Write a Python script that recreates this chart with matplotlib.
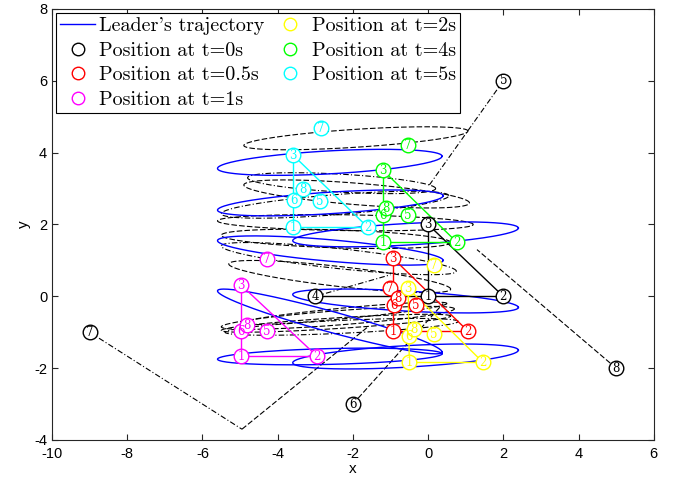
import numpy as np
import matplotlib
matplotlib.use("Agg")
import matplotlib.pyplot as plt
from matplotlib.lines import Line2D

# ---------------- data ----------------
# follower formation positions at each time: follower id -> (x, y)
times = ["0", "0.5", "1", "2", "4", "5"]
colors = ["#000000", "#ff0000", "#ff00ff", "#ffff00", "#00ff00", "#00ffff"]

pos_t0 = {1: (0, 0), 2: (2, 0), 3: (0, 2), 4: (-3, 0), 5: (2, 6), 6: (-2, -3), 7: (-9, -1), 8: (5, -2)}
pos_t05 = {1: (-0.93, -0.97), 2: (1.06, -0.97), 3: (-0.93, 1.06), 5: (-0.32, -0.25),
           6: (-0.9, -0.25), 7: (-1.01, 0.22), 8: (-0.8, -0.06)}
pos_t1 = {1: (-4.97, -1.67), 2: (-2.95, -1.67), 3: (-4.97, 0.31), 5: (-4.28, -0.97),
          6: (-4.97, -0.97), 7: (-4.28, 1.03), 8: (-4.81, -0.81)}
pos_t2 = {1: (-0.5, -1.84), 2: (1.46, -1.84), 3: (-0.53, 0.22), 5: (0.16, -1.06),
          6: (-0.5, -1.11), 7: (0.16, 0.86), 8: (-0.37, -0.92)}
pos_t4 = {1: (-1.2, 1.5), 2: (0.77, 1.5), 3: (-1.2, 3.51), 5: (-0.53, 2.26),
          6: (-1.2, 2.26), 7: (-0.53, 4.2), 8: (-1.12, 2.45)}
pos_t5 = {1: (-3.59, 1.92), 2: (-1.6, 1.92), 3: (-3.59, 3.93), 5: (-2.87, 2.65),
          6: (-3.56, 2.67), 7: (-2.85, 4.68), 8: (-3.32, 2.98)}
positions = [pos_t0, pos_t05, pos_t1, pos_t2, pos_t4, pos_t5]

edges_common = [(1, 2), (1, 3), (2, 3)]
edges_t0_extra = [(1, 4)]

# leader trajectory loops: left tip (x, y), right tip (x, y), half thickness
leader_left_x = [-5.6, -5.6, -3.6, -5.6, -5.6, -3.6, -5.6, -3.6]
leader_left_y = [3.56, 2.40, 1.55, 1.55, 0.15, 0.05, -1.75, -1.85]
leader_right_x = [0.37, 0.40, 2.40, 0.40, 0.37, 2.40, 0.37, 2.40]
leader_right_y = [3.90, 2.80, 1.90, 1.00, -1.55, -0.31, -1.60, -1.50]
leader_half = [0.32, 0.30, 0.30, 0.30, 0.30, 0.28, 0.22, 0.30]

# follower trajectory loops (black)
fol_left_x = [-4.9, -4.9, -5.5, -5.5, -5.5, -5.3, -5.5, -5.4, -5.0, -5.6, -5.5, -4.8]
fol_left_y = [4.20, 3.10, 2.30, 1.70, 1.40, 0.90, -0.85, -1.00, -0.75, 2.10, -0.95, 3.30]
fol_right_x = [1.06, 1.10, 0.55, 0.60, 0.75, 0.60, 0.70, 0.80, 0.50, 1.20, 0.60, 0.20]
fol_right_y = [4.60, 2.60, 2.80, 1.50, 0.70, 0.20, -0.35, -0.70, -0.20, 2.00, -0.55, 3.00]
fol_half = [0.25, 0.30, 0.28, 0.25, 0.28, 0.28, 0.20, 0.18, 0.15, 0.22, 0.15, 0.25]
fol_style = ["--", "--", "-.", "--", "-.", "--", "--", "-.", "--", "--", "--", "-."]

# follower transit paths from initial positions (x list, y list, style)
transit_x = [[2, 0.0], [-2, 0.4], [-9, -4.95], [-4.95, -1.6], [5, 1.3], [-3, -1.0]]
transit_y = [[6, 3.05], [-3, -0.2], [-1, -3.7], [-3.7, -0.85], [-2, 1.3], [0, 0.6]]
transit_style = ["-.", "--", "-.", "--", "--", "-."]

# ---------------- drawing ----------------
plt.rcParams["font.family"] = ["Liberation Sans", "DejaVu Sans"]
plt.rcParams["axes.unicode_minus"] = False
fig = plt.figure(figsize=(6.81, 4.88), dpi=100)
ax = fig.add_axes([0.0764, 0.0984, 0.8836, 0.8832])

theta = np.linspace(0, 2 * np.pi, 240)


def loop(xl, yl, xr, yr, h):
    xc = (xl + xr) / 2
    a = (xr - xl) / 2
    xs = xc + a * np.cos(theta)
    frac = (1 + np.cos(theta)) / 2
    ys = yl + (yr - yl) * frac + h * np.sin(theta)
    return xs, ys


def dash_for(st):
    return (5, 2) if st == "--" else (5, 2, 1, 2)


for xl, yl, xr, yr, h, st in zip(fol_left_x, fol_left_y, fol_right_x, fol_right_y, fol_half, fol_style):
    xs, ys = loop(xl, yl, xr, yr, h)
    ax.plot(xs, ys, color="k", lw=0.8, dashes=dash_for(st))

for tx, ty, st in zip(transit_x, transit_y, transit_style):
    ax.plot(tx, ty, color="k", lw=0.8, dashes=dash_for(st))

for xl, yl, xr, yr, h in zip(leader_left_x, leader_left_y, leader_right_x, leader_right_y, leader_half):
    xs, ys = loop(xl, yl, xr, yr, h)
    ax.plot(xs, ys, color="#0000ff", lw=1.0)

for k, (pos, col) in enumerate(zip(positions, colors)):
    edges = edges_common + (edges_t0_extra if k == 0 else [])
    for a, b in edges:
        ax.plot([pos[a][0], pos[b][0]], [pos[a][1], pos[b][1]], color=col, lw=1.0)
    for fid, (px, py) in pos.items():
        ax.plot(px, py, "o", mfc="white", mec=col, ms=10.5, mew=1.0, zorder=5)
        ax.text(px, py, str(fid), color=col, ha="center", va="center",
                fontsize=8.5, zorder=6, family=["DejaVu Serif"])

ax.set_xlim(-10, 6)
ax.set_ylim(-4, 8)
ax.set_xticks(np.arange(-10, 7, 2))
ax.set_yticks(np.arange(-4, 9, 2))
ax.tick_params(direction="in", top=True, right=True, labelsize=10.5, length=4, color="#262626")
ax.tick_params(axis="x", pad=5)
for sp in ax.spines.values():
    sp.set_linewidth(0.8)
    sp.set_color("#262626")
ax.set_xlabel("x", fontsize=11, labelpad=1)
ax.set_ylabel("y", fontsize=11, labelpad=2)

handles = [Line2D([], [], color="#0000ff", lw=1.0)]
labels = ["Leader's trajectory"]
for t, col in zip(times, colors):
    handles.append(Line2D([], [], ls="none", marker="o", mfc="none", mec=col, ms=9, mew=1.0))
    labels.append(f"Position at t={t}s")
leg = ax.legend(handles, labels, loc="upper left", ncol=2, frameon=True, fancybox=False,
                edgecolor="k", framealpha=1, prop={"family": ["cmr10", "DejaVu Serif"], "size": 14.5},
                labelspacing=0.32, handlelength=1.75, handletextpad=0.2, columnspacing=0.4,
                borderpad=0.2, borderaxespad=0.2)
leg.get_frame().set_linewidth(0.8)
leg.set_zorder(10)

fig.savefig("out.png", dpi=100)
